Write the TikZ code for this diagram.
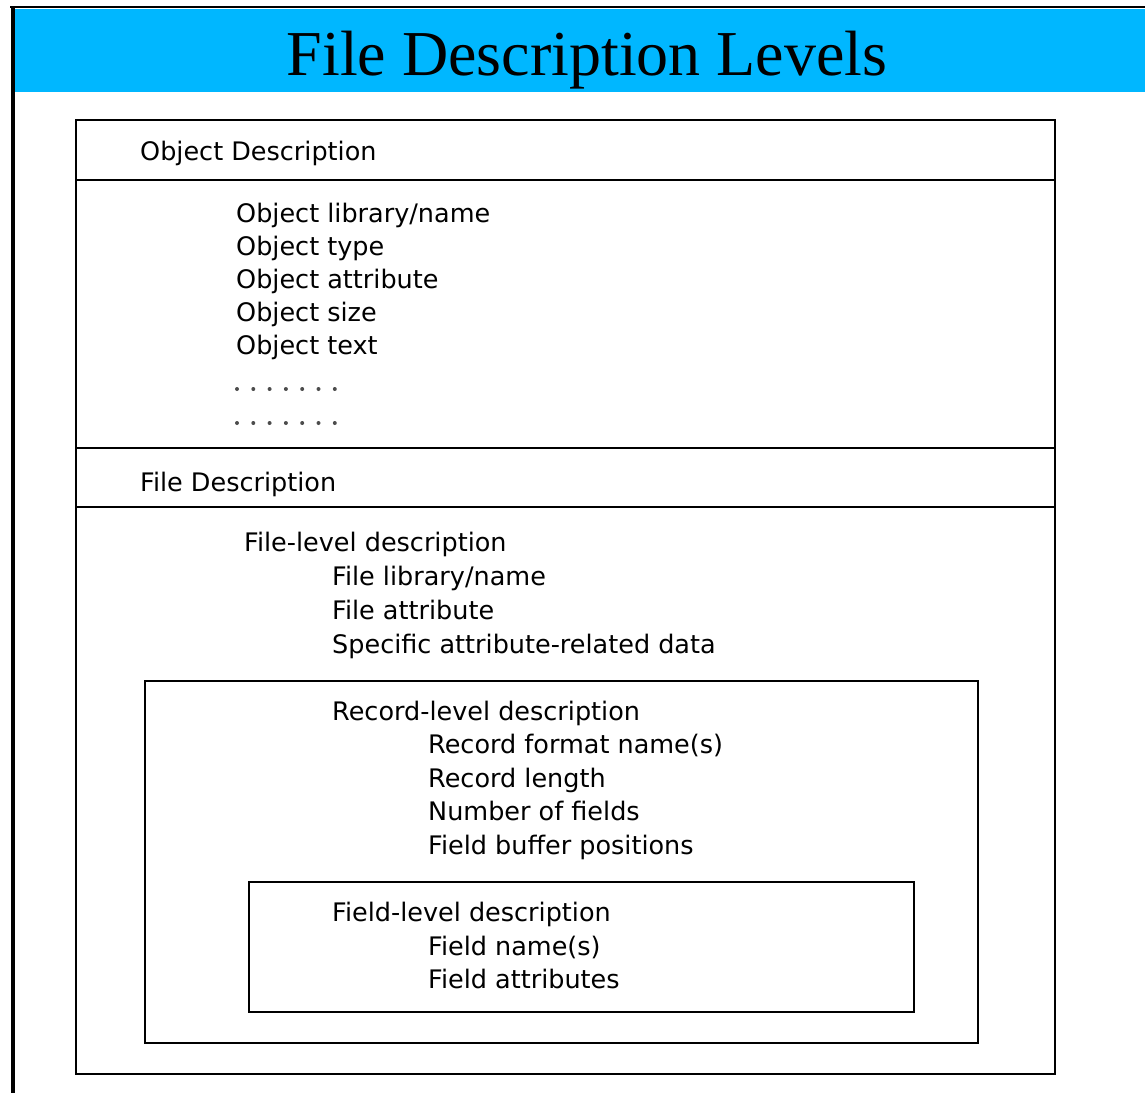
\documentclass[tikz,border=0pt]{standalone}
\usepackage{fontspec}
\setmainfont{DejaVu Sans}
\newfontfamily\titlefont{Liberation Serif}
\definecolor{barcyan}{RGB}{0,183,255}
\begin{document}
\begin{tikzpicture}[x=1pt,y=-1pt,
  frame/.style={draw=black, line width=2.2pt},
  label/.style={anchor=base west, inner sep=0pt, font=\fontsize{25.5}{30}\selectfont},
  dotfill/.style={fill=black!70}]
\useasboundingbox (0,0) rectangle (1145,1093);
% title bar
\fill[barcyan] (13,9) rectangle (1145,92);
\draw[line width=2pt] (10,7) -- (1145,7);
\draw[line width=4pt] (13,6) -- (13,1093);
\node[anchor=base, inner sep=0pt, font=\titlefont\fontsize{64}{70}\selectfont] (title) at (587,75) {File Description Levels};

% outer frame and section rules
\node[frame, anchor=north west, minimum width=979pt, minimum height=954pt, inner sep=0pt] (outer) at (75,119) {};
\coordinate (r1l) at (75,180);  \coordinate (r1r) at (1054,180);
\coordinate (r2l) at (75,448);  \coordinate (r2r) at (1054,448);
\coordinate (r3l) at (75,507);  \coordinate (r3r) at (1054,507);
\draw[line width=2.2pt] (r1l) -- (r1r);
\draw[line width=2.2pt] (r2l) -- (r2r);
\draw[line width=2.2pt] (r3l) -- (r3r);

% nested record and field frames
\node[frame, anchor=north west, minimum width=833pt, minimum height=362pt, inner sep=0pt] (record) at (144,680) {};
\node[frame, anchor=north west, minimum width=665pt, minimum height=130pt, inner sep=0pt] (field) at (248,881) {};

% object description
\node[label] (objhead) at (140,160) {Object Description};
\node[label] (obj1) at (236,222.5) {Object library/name};
\node[label] (obj2) at (236,255.5) {Object type};
\node[label] (obj3) at (236,288.5) {Object attribute};
\node[label] (obj4) at (236,321.5) {Object size};
\node[label] (obj5) at (236,354.5) {Object text};
% two rows of continuation dots
\foreach \i in {0,...,6} {
  \fill[dotfill] (237+16.3*\i,389) circle[radius=2];
  \fill[dotfill] (237+16.3*\i,423) circle[radius=2];
}

% file description
\node[label] (filehead) at (140,491) {File Description};
\node[label] (fl0) at (244,551.5) {File-level description};
\node[label] (fl1) at (332,585) {File library/name};
\node[label] (fl2) at (332,619.5) {File attribute};
\node[label] (fl3) at (332,653) {Specific attribute-related data};

% record level
\node[label] (rl0) at (332,720) {Record-level description};
\node[label] (rl1) at (428,753) {Record format name(s)};
\node[label] (rl2) at (428,787) {Record length};
\node[label] (rl3) at (428,820.5) {Number of fields};
\node[label] (rl4) at (428,854) {Field buffer positions};

% field level
\node[label] (fd0) at (332,921) {Field-level description};
\node[label] (fd1) at (428,955) {Field name(s)};
\node[label] (fd2) at (428,988) {Field attributes};
\end{tikzpicture}
\end{document}
